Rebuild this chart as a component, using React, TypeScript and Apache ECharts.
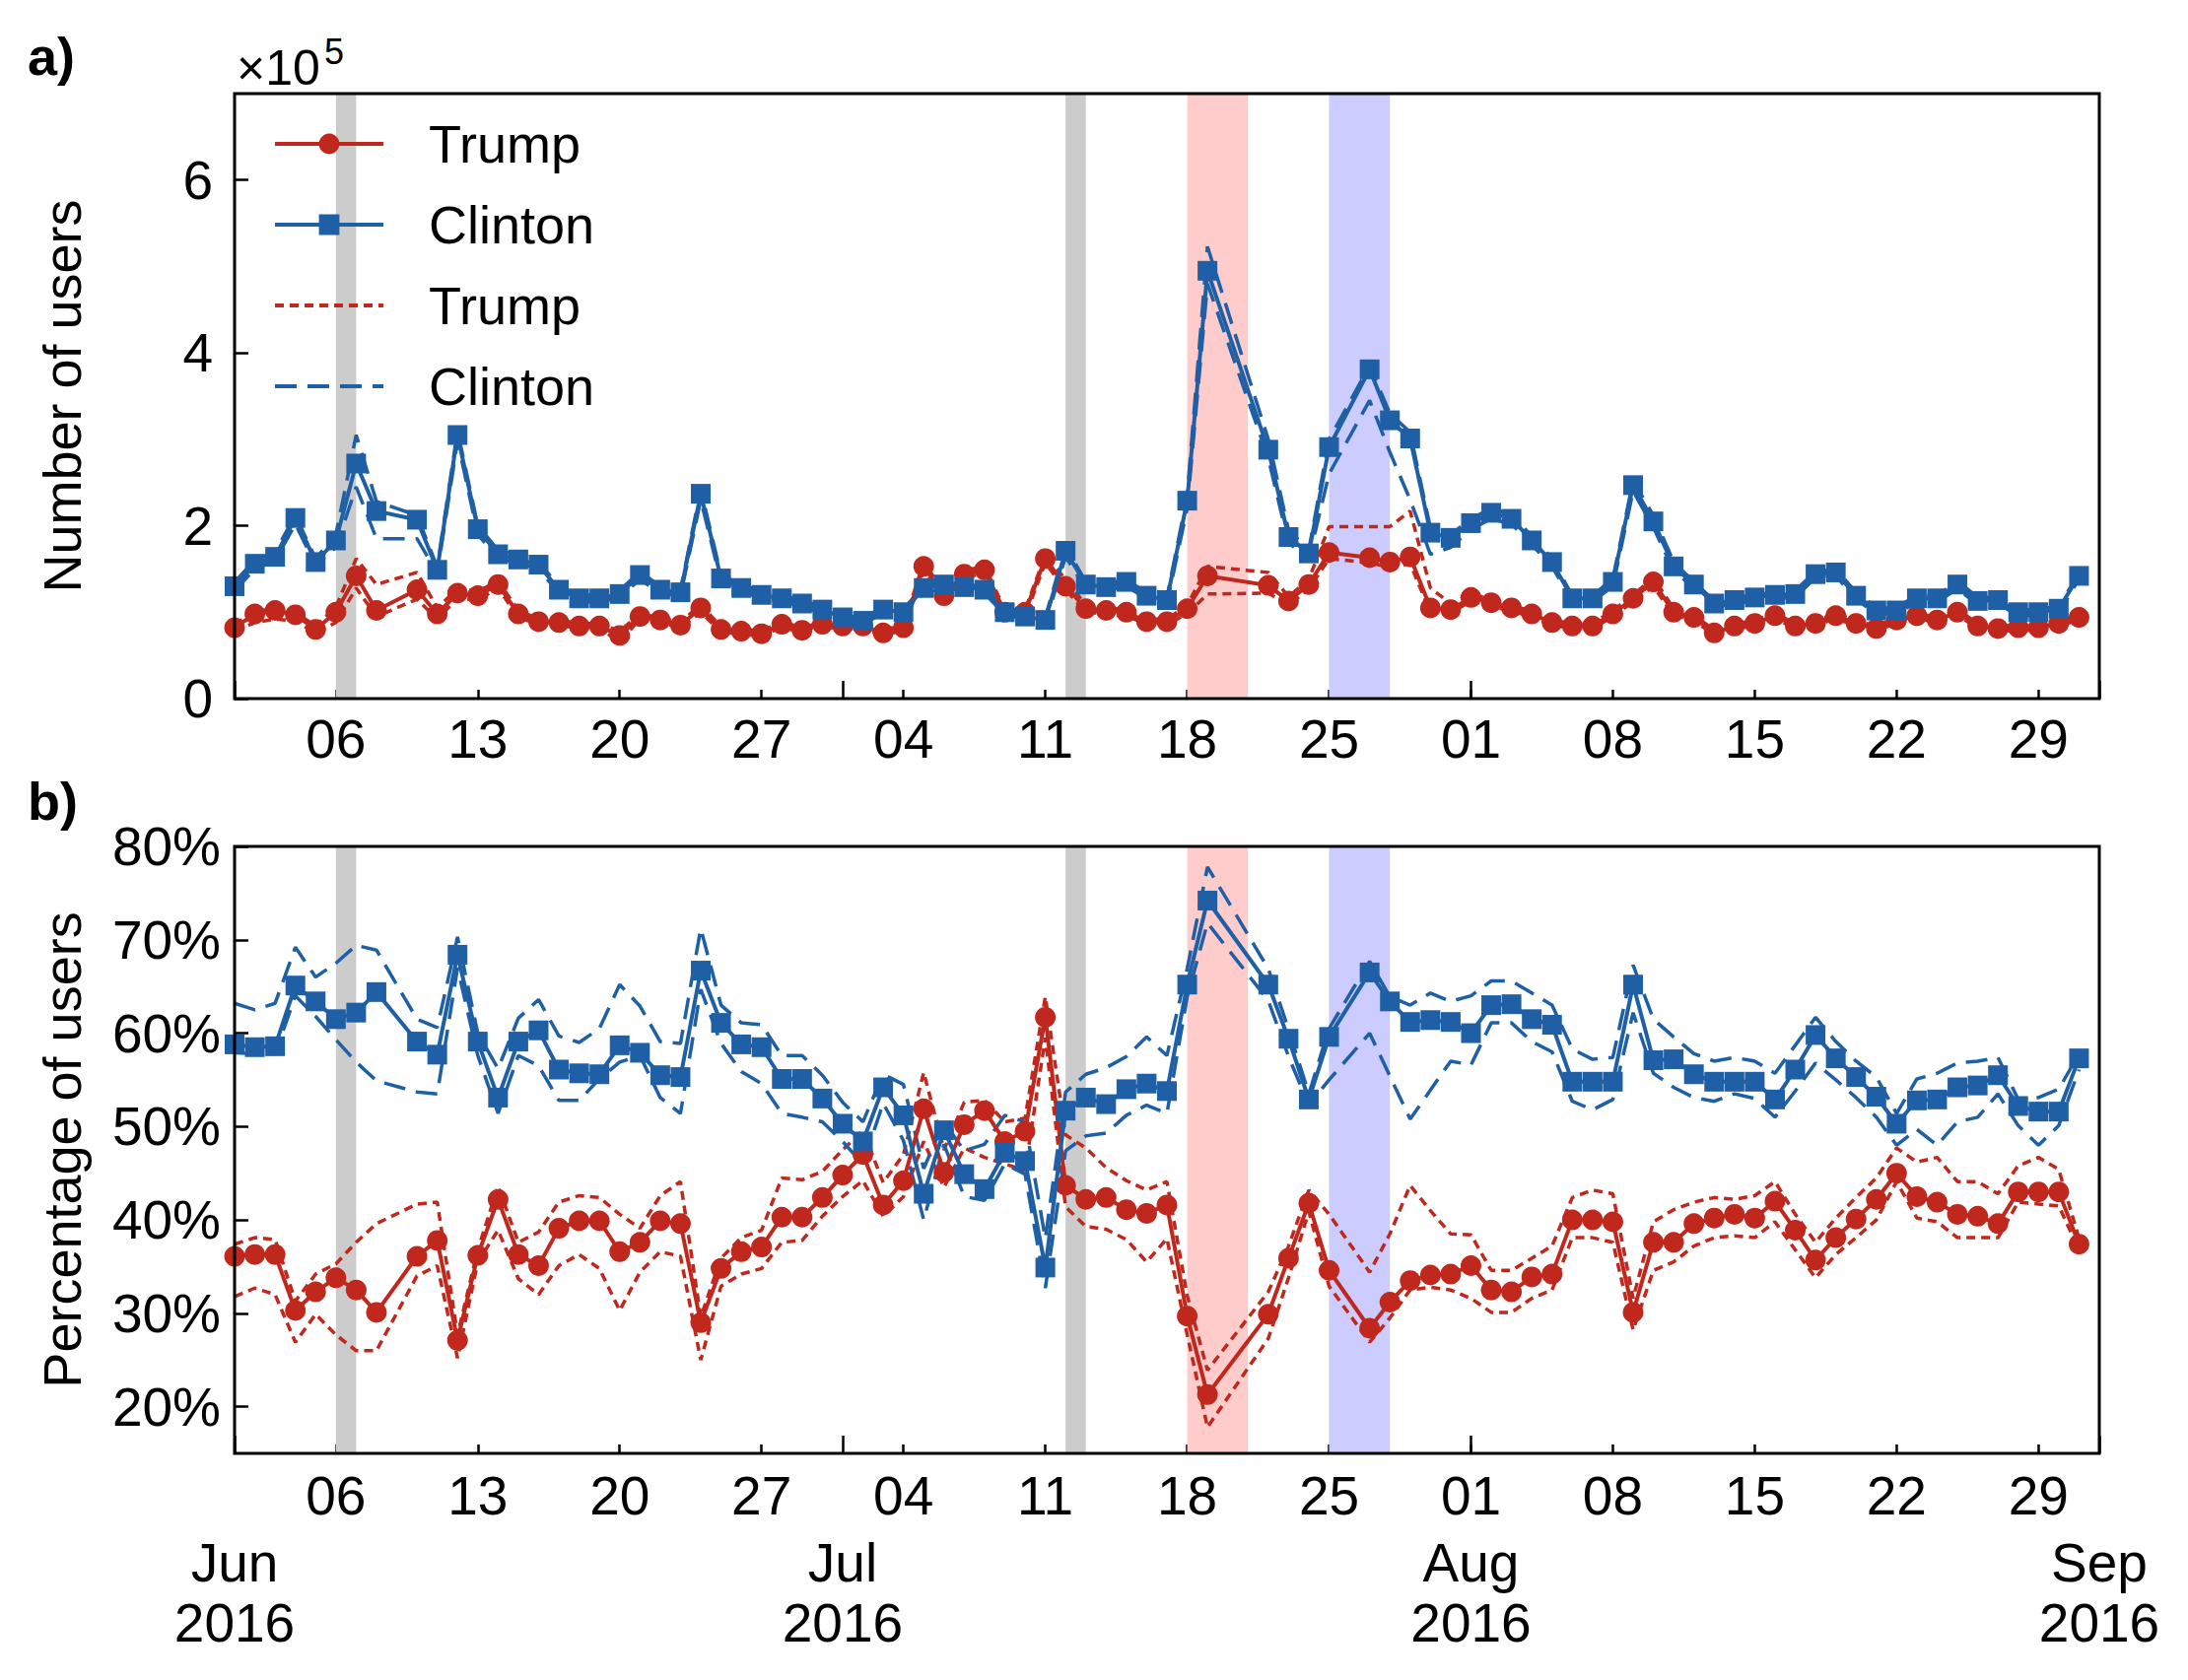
import React, { useEffect, useRef } from "react";
import * as echarts from "echarts";

const FONT = "'Liberation Sans', Arial, Helvetica, sans-serif";
const RED = "#c1281d";
const BLUE = "#1f5fa5";

// x axis: day index from 1 June 2016 (0) to 1 Sep 2016 (92)
const TICK_DAYS = [5, 12, 19, 26, 33, 40, 47, 54, 61, 68, 75, 82, 89];
const TICK_LABELS = ["06", "13", "20", "27", "04", "11", "18", "25", "01", "08", "15", "22", "29"];
const MONTH_DAYS = [0, 30, 61, 92];
const MONTH_LABELS = ["Jun\n2016", "Jul\n2016", "Aug\n2016", "Sep\n2016"];

// shaded periods (day index start / end)
const BAND_START = [5, 41, 47, 54];
const BAND_END = [6, 42, 50, 57];
const BAND_COLORS = ["#cccccc", "#cccccc", "#ffcccc", "#ccccff"];

// y ticks
const Y_TICKS_A = [0, 2, 4, 6];
const Y_TICKS_B = [20, 30, 40, 50, 60, 70, 80];

// Panel a: number of users (x 10^5), one value per day
const TRUMP_A = [
  0.82, 0.98, 1.02, 0.97, 0.80, 1.00, 1.42, 1.02, null, 1.26,
  0.98, 1.22, 1.19, 1.32, 0.98, 0.89, 0.88, 0.84, 0.84, 0.73,
  0.95, 0.91, 0.85, 1.05, 0.80, 0.78, 0.75, 0.86, 0.79, 0.86,
  0.84, 0.84, 0.76, 0.82, 1.53, 1.19, 1.44, 1.49, 1.00, 1.00,
  1.62, 1.30, 1.04, 1.02, 1.00, 0.89, 0.89, 1.04, 1.42, null,
  null, 1.31, 1.13, 1.32, 1.69, null, 1.63, 1.58, 1.64, 1.05,
  1.03, 1.17, 1.11, 1.05, 0.98, 0.88, 0.84, 0.84, 0.98, 1.16,
  1.35, 1.00, 0.94, 0.76, 0.84, 0.87, 0.96, 0.84, 0.87, 0.96,
  0.87, 0.81, 0.91, 0.96, 0.91, 1.00, 0.84, 0.81, 0.82, 0.82,
  0.87, 0.94,
];
const CLINTON_A = [
  1.30, 1.56, 1.64, 2.09, 1.58, 1.83, 2.72, 2.17, null, 2.07,
  1.49, 3.05, 1.96, 1.67, 1.61, 1.55, 1.26, 1.16, 1.16, 1.21,
  1.43, 1.26, 1.23, 2.37, 1.39, 1.28, 1.20, 1.16, 1.10, 1.03,
  0.94, 0.90, 1.03, 1.00, 1.28, 1.32, 1.29, 1.26, 1.00, 0.95,
  0.91, 1.71, 1.32, 1.29, 1.35, 1.19, 1.14, 2.29, 4.95, null,
  null, 2.88, 1.87, 1.68, 2.91, null, 3.81, 3.22, 3.01, 1.92,
  1.86, 2.03, 2.15, 2.08, 1.83, 1.58, 1.16, 1.16, 1.35, 2.47,
  2.05, 1.53, 1.32, 1.10, 1.14, 1.17, 1.20, 1.21, 1.44, 1.46,
  1.19, 1.02, 1.02, 1.16, 1.16, 1.32, 1.13, 1.14, 1.00, 1.00,
  1.04, 1.42,
];
const TRUMP_A_HI = [
  0.86, 1.00, 1.05, 1.00, 0.84, 1.06, 1.62, 1.32, null, 1.46,
  1.05, 1.27, 1.24, 1.36, 1.02, 0.92, 0.91, 0.87, 0.87, 0.78,
  0.98, 0.94, 0.88, 1.09, 0.83, 0.81, 0.78, 0.89, 0.82, 0.89,
  0.87, 0.87, 0.79, 0.85, 1.58, 1.23, 1.48, 1.53, 1.03, 1.03,
  1.66, 1.38, 1.08, 1.05, 1.03, 0.92, 0.92, 1.08, 1.53, null,
  null, 1.46, 1.18, 1.38, 1.99, null, 1.99, 1.99, 2.17, 1.28,
  1.10, 1.21, 1.15, 1.08, 1.01, 0.91, 0.87, 0.87, 1.02, 1.20,
  1.40, 1.04, 0.97, 0.79, 0.87, 0.90, 0.99, 0.87, 0.90, 0.99,
  0.90, 0.84, 0.94, 0.99, 0.94, 1.03, 0.87, 0.84, 0.85, 0.85,
  0.90, 0.97,
];
const TRUMP_A_LO = [
  0.78, 0.88, 0.92, 0.90, 0.76, 0.88, 1.28, 0.95, null, 1.15,
  0.92, 1.16, 1.14, 1.28, 0.94, 0.86, 0.85, 0.81, 0.81, 0.66,
  0.92, 0.88, 0.82, 1.00, 0.77, 0.75, 0.72, 0.83, 0.76, 0.83,
  0.81, 0.81, 0.73, 0.79, 1.48, 1.15, 1.40, 1.45, 0.97, 0.95,
  1.57, 1.26, 1.00, 0.98, 0.96, 0.86, 0.86, 0.98, 1.21, null,
  null, 1.22, 1.08, 1.27, 1.62, null, 1.57, 1.52, 1.56, 1.00,
  0.99, 1.13, 1.07, 1.01, 0.95, 0.85, 0.81, 0.81, 0.95, 1.12,
  1.30, 0.96, 0.91, 0.73, 0.81, 0.84, 0.93, 0.81, 0.84, 0.93,
  0.84, 0.78, 0.88, 0.93, 0.88, 0.97, 0.81, 0.78, 0.79, 0.79,
  0.84, 0.91,
];
const CLINTON_A_HI = [
  1.35, 1.60, 1.70, 2.12, 1.62, 1.90, 3.05, 2.28, null, 2.12,
  1.52, 3.10, 2.00, 1.72, 1.66, 1.58, 1.30, 1.20, 1.20, 1.25,
  1.47, 1.30, 1.26, 2.42, 1.43, 1.32, 1.24, 1.20, 1.13, 1.06,
  0.97, 0.93, 1.06, 1.03, 1.31, 1.36, 1.32, 1.30, 1.03, 0.98,
  0.94, 1.76, 1.35, 1.33, 1.38, 1.22, 1.17, 2.35, 5.23, null,
  null, 3.00, 1.95, 1.72, 3.00, null, 3.85, 3.30, 3.08, 1.97,
  1.90, 2.08, 2.20, 2.13, 1.88, 1.62, 1.19, 1.19, 1.39, 2.52,
  2.12, 1.58, 1.35, 1.13, 1.17, 1.20, 1.23, 1.25, 1.47, 1.50,
  1.23, 1.05, 1.05, 1.20, 1.19, 1.36, 1.17, 1.17, 1.03, 1.03,
  1.07, 1.45,
];
const CLINTON_A_LO = [
  1.25, 1.50, 1.60, 2.02, 1.54, 1.75, 2.45, 1.85, null, 1.85,
  1.45, 2.98, 1.90, 1.62, 1.57, 1.50, 1.22, 1.12, 1.12, 1.17,
  1.38, 1.22, 1.19, 2.30, 1.35, 1.24, 1.16, 1.12, 1.06, 0.99,
  0.90, 0.86, 0.99, 0.96, 1.23, 1.27, 1.25, 1.22, 0.97, 0.92,
  0.88, 1.64, 1.28, 1.25, 1.30, 1.15, 1.10, 2.20, 4.80, null,
  null, 2.78, 1.80, 1.62, 2.60, null, 3.45, 2.85, 2.30, 1.67,
  1.75, 1.96, 2.08, 2.02, 1.78, 1.53, 1.12, 1.12, 1.30, 2.40,
  1.98, 1.48, 1.28, 1.06, 1.10, 1.13, 1.16, 1.17, 1.40, 1.42,
  1.15, 0.98, 0.98, 1.12, 1.12, 1.27, 1.09, 1.10, 0.96, 0.96,
  1.00, 1.38,
];

// Panel b: percentage of users
const TRUMP_B = [
  36.1, 36.3, 36.3, 30.3, 32.3, 33.8, 32.5, 30.1, null, 36.1,
  37.8, 27.1, 36.2, 42.2, 36.3, 35.1, 39.1, 39.9, 39.9, 36.6,
  37.6, 39.9, 39.6, 29.0, 34.8, 36.6, 37.1, 40.3, 40.3, 42.4,
  44.8, 47.0, 41.6, 44.2, 51.9, 45.1, 50.2, 51.7, 48.4, 49.5,
  61.7, 43.7, 42.2, 42.4, 41.1, 40.7, 41.6, 29.7, 21.3, null,
  null, 29.9, 35.9, 41.8, 34.6, null, 28.4, 31.2, 33.5, 34.1,
  34.2, 35.1, 32.5, 32.3, 33.9, 34.2, 40.0, 40.0, 39.8, 30.1,
  37.6, 37.6, 39.6, 40.2, 40.6, 40.2, 42.0, 38.9, 35.7, 38.1,
  40.1, 42.2, 45.0, 42.5, 41.9, 40.6, 40.4, 39.6, 43.0, 43.0,
  43.0, 37.4,
];
const CLINTON_B = [
  58.8, 58.5, 58.6, 65.1, 63.4, 61.5, 62.2, 64.4, null, 59.1,
  57.7, 68.4, 59.1, 53.1, 59.1, 60.3, 56.1, 55.7, 55.6, 58.7,
  57.9, 55.5, 55.3, 66.7, 61.1, 58.8, 58.5, 55.1, 55.1, 53.0,
  50.3, 48.4, 54.2, 51.2, 42.8, 49.6, 44.9, 43.3, 47.2, 46.3,
  34.9, 51.7, 53.1, 52.4, 54.0, 54.6, 53.8, 65.2, 74.2, null,
  null, 65.2, 59.4, 52.9, 59.6, null, 66.5, 63.4, 61.2, 61.4,
  61.2, 60.0, 63.0, 63.1, 61.5, 60.9, 54.8, 54.8, 54.8, 65.2,
  57.1, 57.2, 55.6, 54.8, 54.8, 54.8, 52.9, 56.1, 59.8, 57.3,
  55.3, 53.2, 50.3, 52.8, 52.9, 54.2, 54.4, 55.5, 52.2, 51.6,
  51.6, 57.3,
];
const TRUMP_B_HI = [
  37.4, 38.1, 37.9, 31.3, 34.2, 35.3, 37.6, 39.6, null, 41.7,
  41.9, 27.7, 36.8, 43.6, 37.6, 38.7, 41.9, 42.6, 42.4, 40.6,
  39.1, 42.6, 44.1, 29.6, 35.9, 38.1, 38.9, 44.5, 44.3, 45.2,
  47.5, 49.6, 44.0, 47.0, 55.8, 47.5, 52.6, 52.8, 50.5, 50.9,
  63.9, 49.1, 47.7, 45.6, 44.2, 43.2, 44.1, 31.9, 23.9, null,
  null, 32.3, 37.2, 43.2, 40.6, null, 34.4, 38.5, 43.7, 41.0,
  38.5, 38.4, 34.6, 34.6, 35.9, 37.2, 42.4, 43.2, 42.8, 31.6,
  39.8, 41.1, 41.9, 42.4, 42.2, 42.6, 44.1, 40.6, 37.6, 40.2,
  42.4, 44.5, 47.7, 46.2, 46.7, 44.1, 44.1, 42.8, 45.8, 46.7,
  45.4, 38.0,
];
const TRUMP_B_LO = [
  31.8, 32.7, 32.0, 26.9, 29.9, 27.7, 26.0, 26.0, null, 34.0,
  35.1, 25.2, 35.5, 38.9, 33.7, 32.0, 35.1, 36.3, 34.8, 30.3,
  34.4, 36.6, 36.1, 25.0, 32.9, 34.2, 34.8, 37.6, 37.8, 40.4,
  42.5, 44.2, 40.4, 42.5, 48.4, 43.5, 47.7, 46.7, 46.0, 45.3,
  59.5, 41.4, 39.3, 39.0, 37.9, 35.5, 38.0, 27.7, 17.8, null,
  null, 27.3, 33.8, 40.9, 32.9, null, 26.9, 29.5, 32.5, 32.8,
  32.5, 31.6, 30.1, 30.1, 31.6, 32.5, 38.1, 38.1, 37.6, 28.2,
  34.6, 35.5, 37.2, 38.1, 38.3, 38.1, 39.8, 36.8, 33.8, 36.3,
  38.1, 40.0, 44.1, 40.2, 39.8, 38.1, 38.1, 38.1, 41.9, 41.7,
  41.5, 36.8,
];
const CLINTON_B_HI = [
  63.2, 62.5, 63.2, 69.2, 66.0, 67.5, 69.4, 68.9, null, 61.5,
  60.6, 70.3, 60.0, 56.2, 61.6, 63.6, 59.7, 59.0, 60.5, 65.2,
  62.9, 59.1, 58.9, 71.2, 63.0, 61.1, 60.9, 57.6, 57.6, 55.5,
  52.6, 50.5, 55.6, 54.5, 45.5, 50.5, 47.4, 48.1, 51.2, 50.5,
  38.0, 53.7, 55.6, 56.3, 57.5, 59.6, 57.6, 66.9, 77.8, null,
  null, 66.9, 60.4, 53.5, 60.5, null, 67.7, 63.9, 63.0, 64.3,
  63.4, 64.0, 65.6, 65.6, 64.3, 63.0, 58.3, 57.2, 57.4, 67.3,
  61.5, 59.6, 57.8, 57.0, 57.4, 57.0, 55.7, 58.7, 61.7, 59.1,
  57.0, 55.3, 51.4, 55.1, 55.7, 56.8, 57.0, 57.4, 52.9, 53.1,
  54.0, 57.8,
];
const CLINTON_B_LO = [
  57.9, 57.8, 57.8, 64.0, 61.8, 59.3, 56.9, 54.9, null, 53.7,
  53.5, 67.0, 57.6, 51.4, 57.6, 56.5, 52.8, 52.8, 55.1, 56.9,
  57.6, 53.1, 51.4, 64.7, 58.9, 55.9, 54.6, 51.4, 51.0, 50.5,
  48.4, 46.0, 52.5, 48.5, 40.0, 48.1, 42.5, 42.1, 46.0, 44.9,
  32.7, 47.4, 49.0, 49.3, 51.2, 52.3, 51.4, 63.9, 71.8, null,
  null, 63.5, 57.5, 52.3, 55.0, null, 60.0, 55.4, 50.8, 53.9,
  57.0, 56.6, 61.1, 61.1, 59.1, 58.0, 52.7, 51.8, 52.9, 62.2,
  55.7, 54.2, 53.1, 52.7, 53.5, 53.0, 51.0, 53.8, 56.8, 55.0,
  53.1, 51.0, 48.0, 49.7, 48.0, 50.5, 51.0, 53.5, 50.1, 48.0,
  50.1, 56.1,
];

const pairs = (arr: (number | null)[]) => arr.map((v, i) => [i, v]);

const TRUMP_DASH = [9, 6];
const CLINTON_DASH = [22, 11];

function buildSeries(xIdx: number, yIdx: number, yMin: number, yMax: number,
  tm: any[], cm: any[], th: any[], tl: any[], ch: any[], cl: any[]) {
  const base = { type: "line", xAxisIndex: xIdx, yAxisIndex: yIdx, connectNulls: true, animation: false };
  const bound = (name: string, data: any[], color: string, dash: number[]) => ({
    ...base, name, data: pairs(data), symbol: "none", z: 3,
    lineStyle: { color, width: 3.5, type: dash }, itemStyle: { color },
  });
  return [
    {
      type: "custom", xAxisIndex: xIdx, yAxisIndex: yIdx, silent: true, z: 1,
      data: BAND_START.map((s, i) => [s, BAND_END[i]]),
      encode: { x: [0, 1] },
      renderItem: (params: any, api: any) => {
        const a = api.coord([api.value(0), yMax]);
        const b = api.coord([api.value(1), yMin]);
        return {
          type: "rect",
          shape: { x: a[0], y: a[1], width: b[0] - a[0], height: b[1] - a[1] },
          style: { fill: BAND_COLORS[params.dataIndex] },
        };
      },
    },
    bound("Trump CI", th, RED, TRUMP_DASH),
    bound("Trump CI", tl, RED, TRUMP_DASH),
    bound("Clinton CI", ch, BLUE, CLINTON_DASH),
    bound("Clinton CI", cl, BLUE, CLINTON_DASH),
    {
      ...base, name: "Trump", data: pairs(tm), symbol: "circle", symbolSize: 21, z: 4,
      lineStyle: { color: RED, width: 4 }, itemStyle: { color: RED },
    },
    {
      ...base, name: "Clinton", data: pairs(cm), symbol: "rect", symbolSize: 20, z: 5,
      lineStyle: { color: BLUE, width: 4 }, itemStyle: { color: BLUE },
    },
  ];
}

function weekAxis(gridIndex: number, labelMargin: number) {
  return {
    gridIndex, type: "value", min: 0, max: 92, position: "bottom",
    axisLine: { show: false }, splitLine: { show: false },
    axisTick: { show: true, inside: true, length: 9, customValues: TICK_DAYS, lineStyle: { color: "#000", width: 2.5 } },
    axisLabel: {
      customValues: TICK_DAYS, margin: labelMargin, fontSize: 55, lineHeight: 55, color: "#000", fontFamily: FONT,
      formatter: (v: number) => { const k = TICK_DAYS.indexOf(Math.round(v)); return k >= 0 ? TICK_LABELS[k] : ""; },
    },
  };
}
function monthAxis(gridIndex: number, showLabels: boolean) {
  return {
    gridIndex, type: "value", min: 0, max: 92, position: "bottom",
    axisLine: { show: false }, splitLine: { show: false },
    axisTick: { show: true, inside: true, length: 18, customValues: MONTH_DAYS, lineStyle: { color: "#000", width: 2.5 } },
    axisLabel: {
      show: showLabels, customValues: MONTH_DAYS, margin: 80, fontSize: 55, lineHeight: 61, color: "#000", fontFamily: FONT,
      formatter: (v: number) => { const k = MONTH_DAYS.indexOf(Math.round(v)); return k >= 0 ? MONTH_LABELS[k] : ""; },
    },
  };
}

export default function App() {
  const ref = useRef<HTMLDivElement>(null);
  useEffect(() => {
    if (!ref.current) return;
    const chart = echarts.init(ref.current, undefined, { renderer: "svg" });
    const gridCommon = { show: true, borderColor: "#000", borderWidth: 3, backgroundColor: "transparent", z: 10 };
    const option: any = {
      animation: false,
      backgroundColor: "#fff",
      textStyle: { fontFamily: FONT },
      grid: [
        { ...gridCommon, left: 238, top: 95, width: 1892, height: 614 },
        { ...gridCommon, left: 238, top: 859, width: 1892, height: 616 },
      ],
      xAxis: [weekAxis(0, 13), monthAxis(0, false), weekAxis(1, 15), monthAxis(1, true)],
      yAxis: [
        {
          gridIndex: 0, type: "value", min: 0, max: 7,
          axisLine: { show: false }, splitLine: { show: false },
          axisTick: { show: true, inside: true, length: 14, customValues: Y_TICKS_A, lineStyle: { color: "#000", width: 2.5 } },
          axisLabel: { customValues: Y_TICKS_A, margin: 22, fontSize: 55, color: "#000", fontFamily: FONT },
          name: "Number of users", nameLocation: "middle", nameGap: 148,
          nameTextStyle: { fontSize: 54, color: "#000", fontFamily: FONT },
        },
        {
          gridIndex: 1, type: "value", min: 15, max: 80,
          axisLine: { show: false }, splitLine: { show: false },
          axisTick: { show: true, inside: true, length: 14, customValues: Y_TICKS_B, lineStyle: { color: "#000", width: 2.5 } },
          axisLabel: { customValues: Y_TICKS_B, margin: 14, fontSize: 55, color: "#000", fontFamily: FONT, formatter: (v: number) => v + "%" },
          name: "Percentage of users", nameLocation: "middle", nameGap: 148,
          nameTextStyle: { fontSize: 54, color: "#000", fontFamily: FONT },
        },
      ],
      legend: {
        orient: "vertical", left: 272, top: 111, itemWidth: 110, itemHeight: 26, itemGap: 22,
        data: [
          { name: "Trump" },
          { name: "Clinton" },
          { name: "Trump CI", itemStyle: { opacity: 0 } },
          { name: "Clinton CI", itemStyle: { opacity: 0 } },
        ],
        lineStyle: { width: 4 },
        formatter: (n: string) => n.replace(" CI", ""),
        textStyle: { fontSize: 54, lineHeight: 60, color: "#000", fontFamily: FONT, padding: [0, 0, 0, 41] },
        selectedMode: false,
      },
      graphic: [
        { type: "text", left: 28, top: 30, style: { text: "a)", fontSize: 54, fontWeight: "bold", fontFamily: FONT, fill: "#000" } },
        { type: "text", left: 28, top: 786, style: { text: "b)", fontSize: 54, fontWeight: "bold", fontFamily: FONT, fill: "#000" } },
        { type: "text", left: 240, top: 44, style: { text: "×10", fontSize: 50, fontFamily: FONT, fill: "#000" } },
        { type: "text", left: 329, top: 34, style: { text: "5", fontSize: 36, fontFamily: FONT, fill: "#000" } },
      ],
      series: [
        ...buildSeries(0, 0, 0, 7, TRUMP_A, CLINTON_A, TRUMP_A_HI, TRUMP_A_LO, CLINTON_A_HI, CLINTON_A_LO),
        ...buildSeries(2, 1, 15, 80, TRUMP_B, CLINTON_B, TRUMP_B_HI, TRUMP_B_LO, CLINTON_B_HI, CLINTON_B_LO),
      ],
    };
    chart.setOption(option);
    return () => chart.dispose();
  }, []);
  return <div ref={ref} style={{ position: "absolute", left: 0, top: 0, width: 2220, height: 1705 }} />;
}
